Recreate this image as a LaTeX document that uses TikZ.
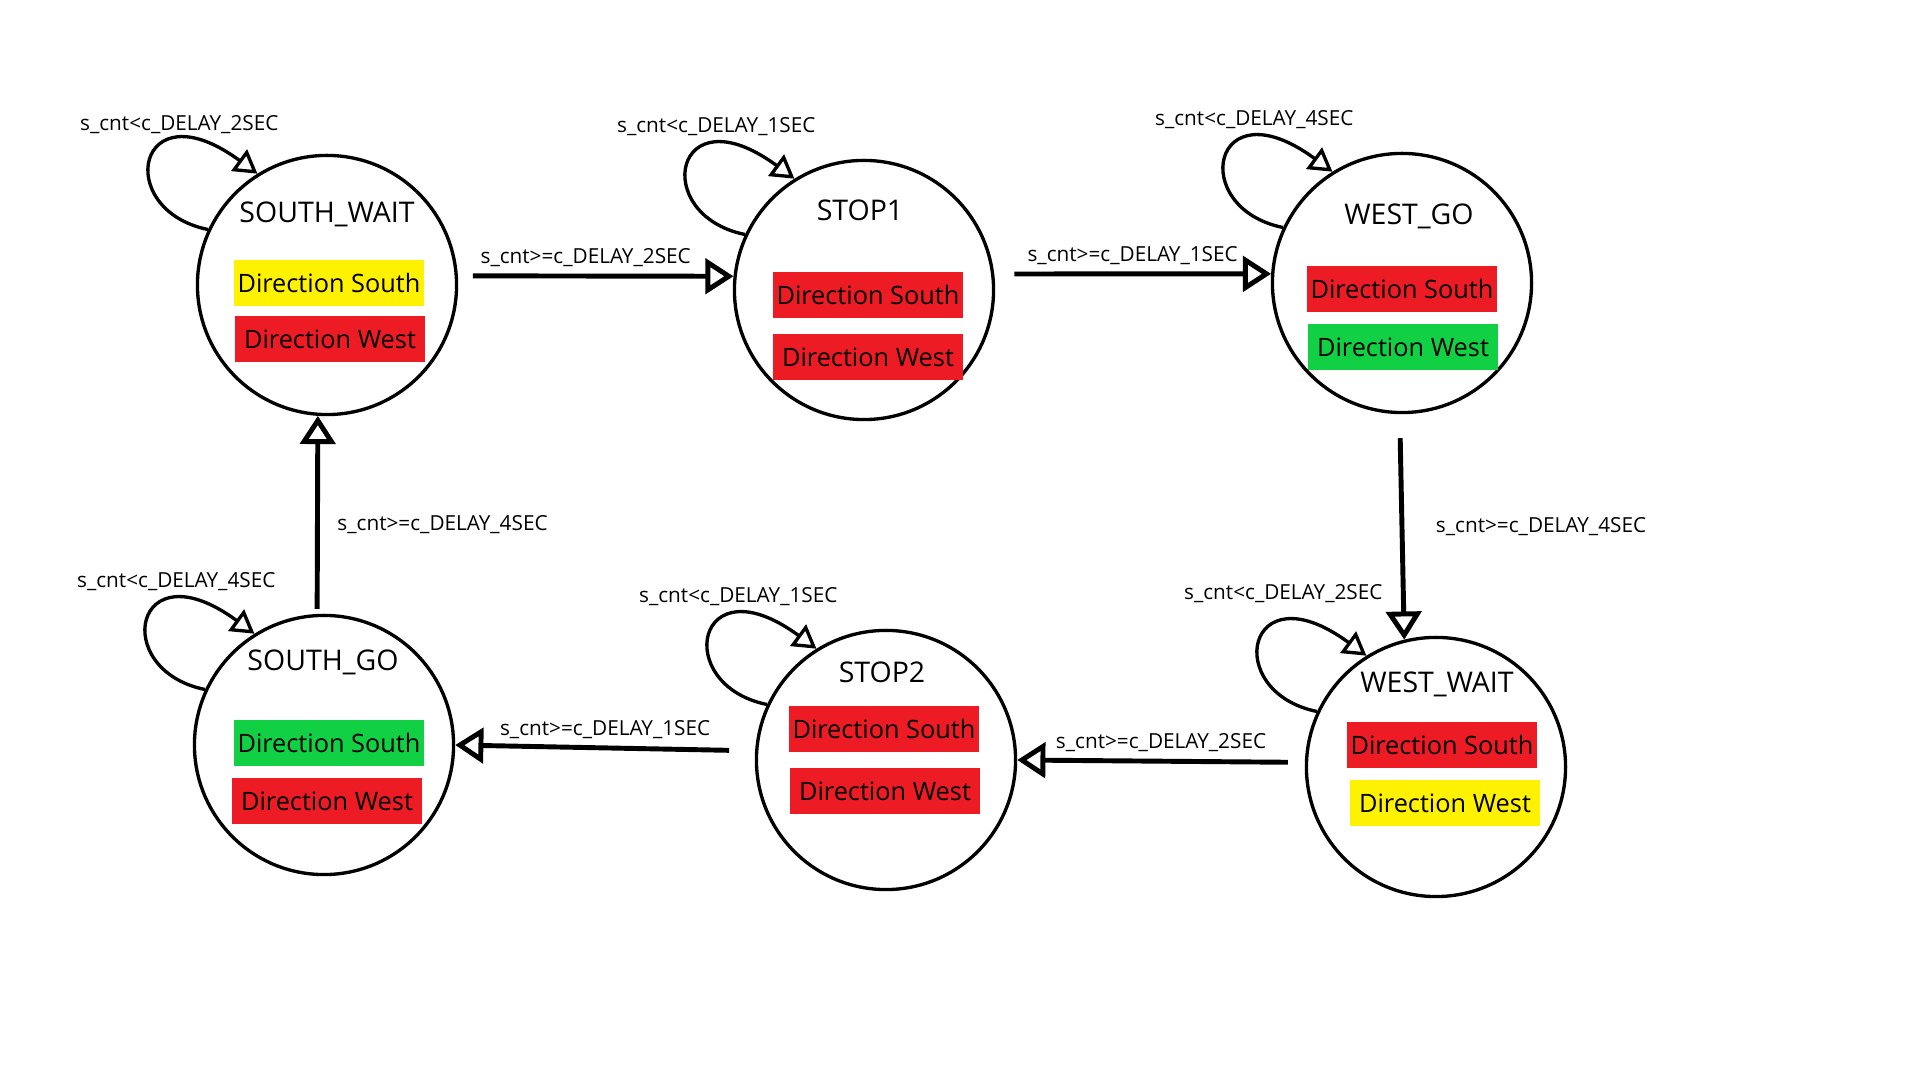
\documentclass[tikz,border=0pt]{standalone}
\usepackage{fontspec}
\setmainfont{Open Sans}
\usetikzlibrary{arrows.meta,positioning,calc}

\definecolor{lampred}{RGB}{237,28,36}
\definecolor{lampyellow}{RGB}{255,242,0}
\definecolor{lampgreen}{RGB}{17,208,68}

\tikzset{
  state/.style={draw, circle, line width=0.95pt, minimum size=2.59cm, inner sep=0pt},
  statename/.style={font=\fontsize{8.1}{10}\selectfont, inner sep=0pt},
  lamp/.style={minimum width=1.9cm, minimum height=0.46cm, inner sep=0pt, font=\fontsize{7.2}{9}\selectfont},
  trans/.style={line width=1.4pt, -{Triangle[open,length=8pt,width=10pt]}},
  selfloop/.style={line width=0.95pt, -{Triangle[open,length=6.5pt,width=7.5pt]}},
  cond/.style={font=\fontsize{5.9}{7}\selectfont, inner sep=1pt},
}

% loop back into the same state (optional arg shifts the label)
\newcommand{\stayloop}[3][]{%
  \draw[selfloop] (#2.155) .. controls ($(#2.center)+(-215,-75)$) and ($(#2.center)+(-190,-200)$) .. node[cond, pos=0.72, above=0.07cm, #1] {#3} (#2.122);}

\begin{document}
\begin{tikzpicture}[x=0.01cm, y=-0.01cm]
\path[fill=white] (0,0) rectangle (1920,1080);
\useasboundingbox (0,0) rectangle (1920,1080);

% States
    \node[state] (sw)    at (327,285)  {};
    \node[state] (stop1) at (864,290)  {};
    \node[state] (wg)    at (1402,283) {};
    \node[state] (ww)    at (1436,767) {};
    \node[state] (stop2) at (886,760)  {};
    \node[state] (sg)    at (324,745)  {};

% State names
    \node[statename] (swname)    at (327,214)  {SOUTH\_WAIT};
    \node[statename] (stop1name) at (860,210)  {STOP1};
    \node[statename] (wgname)    at (1409,216) {WEST\_GO};
    \node[statename] (wwname)    at (1437,684) {WEST\_WAIT};
    \node[statename] (stop2name) at (882,672)  {STOP2};
    \node[statename] (sgname)    at (323,662)  {SOUTH\_GO};

% Lights for south and west
    \node[lamp, fill=lampyellow] (swS)    at (329,283)  {Direction South};
    \node[lamp, fill=lampred]    (swW)    at (330,339)  {Direction West};
    \node[lamp, fill=lampred]    (stop1S) at (868,295)  {Direction South};
    \node[lamp, fill=lampred]    (stop1W) at (868,357)  {Direction West};
    \node[lamp, fill=lampred]    (wgS)    at (1402,289) {Direction South};
    \node[lamp, fill=lampgreen]  (wgW)    at (1403,347) {Direction West};
    \node[lamp, fill=lampred]    (wwS)    at (1442,745) {Direction South};
    \node[lamp, fill=lampyellow] (wwW)    at (1445,803) {Direction West};
    \node[lamp, fill=lampred]    (stop2S) at (884,729)  {Direction South};
    \node[lamp, fill=lampred]    (stop2W) at (885,791)  {Direction West};
    \node[lamp, fill=lampgreen]  (sgS)    at (329,743)  {Direction South};
    \node[lamp, fill=lampred]    (sgW)    at (327,801)  {Direction West};

% Waiting in a state
    \stayloop[yshift=-0.035cm]{sw}{s\_cnt<c\_DELAY\_2SEC}
    \stayloop{stop1}{s\_cnt<c\_DELAY\_1SEC}
    \stayloop{wg}{s\_cnt<c\_DELAY\_4SEC}
    \stayloop[xshift=-0.05cm, yshift=0.1cm]{ww}{s\_cnt<c\_DELAY\_2SEC}
    \stayloop{stop2}{s\_cnt<c\_DELAY\_1SEC}
    \stayloop{sg}{s\_cnt<c\_DELAY\_4SEC}

% Transitions
    \draw[trans, shorten <=0.15cm] (sw.4) -- node[cond, above=1pt, xshift=-0.1cm] {s\_cnt>=c\_DELAY\_2SEC} (stop1.174);
    \draw[trans, shorten <=0.2cm] (stop1.7) -- node[cond, above=1pt] {s\_cnt>=c\_DELAY\_1SEC} (wg.176);
    \draw[trans, shorten <=0.24cm] (wg.269) -- node[cond, right=0.28cm] {s\_cnt>=c\_DELAY\_4SEC} (ww.104);
    \draw[trans, shorten <=0.17cm] (ww.178) -- node[cond, above=1pt] {s\_cnt>=c\_DELAY\_2SEC} (stop2.0);
    \draw[trans, shorten <=0.26cm] (stop2.176) -- node[cond, above=1pt] {s\_cnt>=c\_DELAY\_1SEC} (sg.east);
    \draw[trans, shorten <=0.05cm] (sg.93) -- node[cond, right=0.14cm, yshift=-0.1cm] {s\_cnt>=c\_DELAY\_4SEC} (sw.266);

\end{tikzpicture}
\end{document}
